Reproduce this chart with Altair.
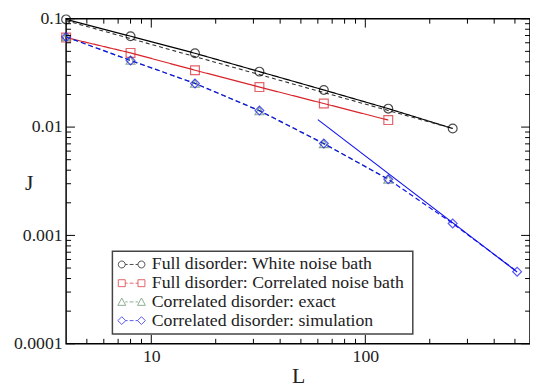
import altair as alt
import pandas as pd

# ---- data ----
L_white = [4, 8, 16, 32, 64, 128, 256]
J_white = [0.0986, 0.069, 0.048, 0.0325, 0.022, 0.0148, 0.0097]

L_corr_bath = [4, 8, 16, 32, 64, 128]
J_corr_bath = [0.067, 0.0484, 0.0335, 0.0234, 0.0165, 0.0116]

L_exact = [4, 8, 16, 32, 64, 128]
J_exact = [0.068, 0.0412, 0.0253, 0.0141, 0.0070, 0.0033]

L_sim = [4, 8, 16, 32, 64, 128, 256, 512]
J_sim = [0.068, 0.0412, 0.0253, 0.0142, 0.00705, 0.0033, 0.00129, 0.000463]

fit_black_L = [4, 256]
fit_black_J = [0.096, 0.0097]
fit_blue_L = [60, 512]
fit_blue_J = [0.0117, 0.00046]

series_names = [
    "Full disorder: White noise bath",
    "Full disorder: Correlated  noise bath",
    "Correlated disorder: exact",
    "Correlated disorder: simulation",
]
series_colors = ["#000000", "#d8232a", "#5b8c66", "#1010f0"]
series_shapes = ["circle", "square", "triangle-up", "diamond"]
series_dash = [[1, 0], [1, 0], [5, 3], [5, 3]]

x_major = [10, 100]
x_minor = [5, 6, 7, 8, 9, 20, 30, 40, 50, 60, 70, 80, 90, 200, 300, 400, 500]
y_major = [0.0001, 0.001, 0.01, 0.1]
y_minor = [m * d for d in [0.0001, 0.001, 0.01] for m in range(2, 10)]

W, H = 471, 330
FONT = "Liberation Serif, DejaVu Serif, serif"


# legend glyphs: "marker - marker" pairs, in unit symbol coordinates
def pair(one):
    dash = "M-0.72,0H-0.45M-0.22,0H0.22M0.45,0H0.72"
    return one(-1.11) + one(1.11) + dash


r = 0.39
legend_paths = [
    pair(lambda c: f"M{c - r:.2f},0A{r},{r} 0 1,0 {c + r:.2f},0A{r},{r} 0 1,0 {c - r:.2f},0Z"),
    pair(lambda c: f"M{c - r:.2f},{-r}H{c + r:.2f}V{r}H{c - r:.2f}Z"),
    pair(lambda c: f"M{c:.2f},{-r - 0.05:.2f}L{c + r + 0.05:.2f},{r:.2f}H{c - r - 0.05:.2f}Z"),
    pair(lambda c: f"M{c:.2f},{-r - 0.05:.2f}L{c + r + 0.05:.2f},0L{c:.2f},{r + 0.05:.2f}L{c - r - 0.05:.2f},0Z"),
]

rows = []
for name, Ls, Js in zip(series_names,
                        [L_white, L_corr_bath, L_exact, L_sim],
                        [J_white, J_corr_bath, J_exact, J_sim]):
    for l, j in zip(Ls, Js):
        rows.append({"series": name, "L": l, "J": j})
df = pd.DataFrame(rows)

black_fit_df = pd.DataFrame({"L": fit_black_L, "J": fit_black_J})
blue_fit_df = pd.DataFrame({"L": fit_blue_L, "J": fit_blue_J})

xscale = alt.Scale(type="log", domain=[4, 588], nice=False)
yscale = alt.Scale(type="log", domain=[0.0001, 0.1], nice=False)

xaxis = alt.Axis(values=x_major, format="~g", title="L", grid=False, ticks=False,
                 domain=False, labelPadding=4, titleBaseline="middle", titleY=32,
                 labelFont=FONT, titleFont=FONT)
yaxis = alt.Axis(values=y_major, format="~g", title="J", grid=False, ticks=False,
                 domain=False, labelPadding=4, titleAngle=0, titleAlign="center",
                 titleBaseline="middle", titleX=-38, titleY=166,
                 labelFont=FONT, titleFont=FONT)

X = alt.X("L:Q", scale=xscale, axis=xaxis)
Y = alt.Y("J:Q", scale=yscale, axis=yaxis)

color_nolegend = alt.Color("series:N",
                           scale=alt.Scale(domain=series_names, range=series_colors),
                           legend=None)

lines = alt.Chart(df).mark_line(strokeWidth=1.2, clip=False).encode(
    x=X, y=Y,
    color=color_nolegend,
    strokeDash=alt.StrokeDash("series:N",
                              scale=alt.Scale(domain=series_names, range=series_dash),
                              legend=None),
    detail="series:N",
)

points = alt.Chart(df).mark_point(filled=False, size=80, strokeWidth=1.2, clip=False).encode(
    x=X, y=Y,
    color=color_nolegend,
    shape=alt.Shape("series:N",
                    scale=alt.Scale(domain=series_names, range=series_shapes),
                    legend=None),
)

legend_layer = alt.Chart(df).transform_filter("false").mark_point(
    filled=False, strokeWidth=1.0
).encode(
    x=X, y=Y,
    color=alt.Color("series:N", scale=alt.Scale(domain=series_names, range=series_colors),
                    legend=alt.Legend(title=None, labelFont=FONT)),
    shape=alt.Shape("series:N", scale=alt.Scale(domain=series_names, range=legend_paths),
                    legend=alt.Legend(title=None, labelFont=FONT)),
)

black_fit = alt.Chart(black_fit_df).mark_line(
    strokeWidth=1.1, color="#333333", strokeDash=[4, 3], clip=False
).encode(x=X, y=Y)

blue_fit = alt.Chart(blue_fit_df).mark_line(
    strokeWidth=1.1, color="#1010f0", clip=False
).encode(x=X, y=Y)

xmaj_df = pd.DataFrame({"L": x_major})
xmin_df = pd.DataFrame({"L": x_minor})
ymaj_df = pd.DataFrame({"J": y_major})
ymin_df = pd.DataFrame({"J": y_minor})


def xticks(d, length):
    base = alt.Chart(d).mark_rule(color="#000", strokeWidth=1)
    bottom = base.encode(x=X, y=alt.value(H), y2=alt.value(H - length))
    top = base.encode(x=X, y=alt.value(0), y2=alt.value(length))
    return [bottom, top]


def yticks(d, length):
    base = alt.Chart(d).mark_rule(color="#000", strokeWidth=1)
    left = base.encode(y=Y, x=alt.value(0), x2=alt.value(length))
    right = base.encode(y=Y, x=alt.value(W), x2=alt.value(W - length))
    return [left, right]


tick_layers = xticks(xmaj_df, 9) + xticks(xmin_df, 5) + yticks(ymaj_df, 9) + yticks(ymin_df, 5)

chart = alt.layer(
    lines, black_fit, blue_fit, points, legend_layer, *tick_layers
).resolve_scale(
    color="independent", shape="independent", strokeDash="independent"
).properties(
    width=W, height=H,
    autosize=alt.AutoSizeParams(type="none"),
    padding={"left": 59, "top": 8, "right": 0, "bottom": 41},
).configure(
    font=FONT
).configure_axis(
    labelFont=FONT, labelFontSize=18, labelColor="#222",
    titleFont=FONT, titleFontSize=22, titleFontWeight="normal", titleColor="#222",
).configure_view(
    stroke="#000", strokeWidth=1.5
).configure_legend(
    orient="none", legendX=47, legendY=236,
    fillColor="white", strokeColor="#444", strokeWidth=1.5, padding=4,
    labelFont=FONT, labelFontSize=18, labelColor="#222", labelLimit=400,
    symbolSize=324, symbolStrokeWidth=1.0, rowPadding=0, symbolOffset=6,
    labelOffset=11,
)

chart.save("out.html", embed_options={"renderer": "svg", "actions": False})
